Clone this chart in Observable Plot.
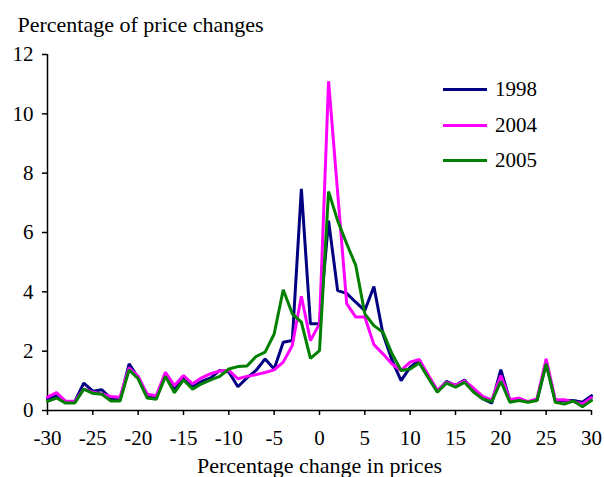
<!DOCTYPE html>
<html>
<head>
<meta charset="utf-8">
<script src="https://cdn.jsdelivr.net/npm/d3@7"></script>
<script src="https://cdn.jsdelivr.net/npm/@observablehq/plot@0.6"></script>
<style>
  html, body { margin: 0; padding: 0; background: #fff; }
  #wrap { position: relative; width: 604px; height: 477px; overflow: hidden; }
  .legend { position: absolute; left: 443px; top: 72px; font-family: "Liberation Serif", "Times New Roman", serif; font-size: 21px; color: #000; }
  .legend .row { display: flex; align-items: center; height: 35.5px; }
  .legend .sw { width: 44px; height: 3px; margin-right: 8px; }
</style>
</head>
<body>
<div id="wrap"></div>
<script>
const xs = d3.range(-30, 31);
const seriesNames = ["1998", "2004", "2005"];
const seriesColors = ["#000080", "#FF00FF", "#008000"];
const v1998 = [0.4,0.5,0.3,0.3,0.92,0.65,0.7,0.4,0.35,1.57,1.1,0.5,0.42,1.22,0.7,1.1,0.8,0.98,1.1,1.35,1.3,0.8,1.1,1.35,1.74,1.4,2.3,2.36,7.47,2.92,2.92,6.4,4.04,3.95,3.65,3.37,4.18,2.58,1.69,1.01,1.46,1.7,1.15,0.65,0.98,0.85,1.03,0.65,0.4,0.25,1.38,0.34,0.36,0.3,0.36,1.6,0.34,0.34,0.34,0.28,0.5];
const v2004 = [0.45,0.6,0.31,0.31,0.72,0.62,0.56,0.47,0.45,1.44,1.15,0.55,0.5,1.29,0.84,1.18,0.9,1.1,1.24,1.33,1.35,1.07,1.15,1.21,1.28,1.37,1.63,2.19,3.85,2.36,2.92,11.1,7.35,3.6,3.15,3.15,2.22,1.91,1.57,1.35,1.63,1.72,1.2,0.68,0.95,0.85,1.0,0.75,0.48,0.35,1.18,0.36,0.42,0.3,0.4,1.74,0.36,0.36,0.3,0.22,0.43];
const v2005 = [0.31,0.42,0.25,0.25,0.72,0.58,0.55,0.32,0.32,1.37,1.07,0.42,0.38,1.15,0.6,1.03,0.72,0.9,1.03,1.15,1.4,1.48,1.5,1.82,1.97,2.58,4.07,3.26,2.98,1.76,2.02,7.38,6.4,5.62,4.89,3.26,2.86,2.64,1.91,1.35,1.4,1.6,1.1,0.62,0.92,0.79,0.95,0.62,0.39,0.3,0.98,0.28,0.34,0.28,0.34,1.57,0.28,0.22,0.32,0.13,0.34];
const xTicks = [-30,-25,-20,-15,-10,-5,0,5,10,15,20,25,30];
const yTicks = [0,2,4,6,8,10,12];
const titleText = "Percentage of price changes";
const xLabelText = "Percentage change in prices";

const values = [v1998, v2004, v2005];
const data = [];
seriesNames.forEach((s, i) => xs.forEach((x, j) => data.push({series: s, x, y: values[i][j]})));

const font = "Liberation Serif, Times New Roman, serif";
const chart = Plot.plot({
  width: 604,
  height: 477,
  marginLeft: 47,
  marginRight: 13,
  marginTop: 54,
  marginBottom: 67,
  style: {fontFamily: font, fontSize: "21px", background: "#fff", color: "#000", overflow: "visible"},
  x: {domain: [-30, 30]},
  y: {domain: [0, 12]},
  color: {domain: seriesNames, range: seriesColors},
  marks: [
    Plot.axisY(yTicks, {tickSize: 5, tickPadding: 9, label: null, fontSize: 21, tickFormat: d => d, strokeWidth: 1.5}),
    Plot.axisX(xTicks, {tickSize: 5, tickPadding: 15, label: null, fontSize: 21, tickFormat: d => d < 0 ? "-" + Math.abs(d) : String(d), strokeWidth: 1.5}),
    Plot.ruleY([0], {stroke: "#000", strokeWidth: 1.5}),
    Plot.ruleX([-30], {stroke: "#000", strokeWidth: 1.5}),
    Plot.line(data, {x: "x", y: "y", z: "series", stroke: "series", strokeWidth: 3, strokeLinejoin: "miter"}),
    Plot.text([titleText], {frameAnchor: "top-left", dx: -30, dy: -38, textAnchor: "start", fontSize: 22, letterSpacing: "0.4px"}),
    Plot.text([xLabelText], {frameAnchor: "bottom", dy: 62, fontSize: 22, letterSpacing: "0.4px"})
  ]
});
const wrap = document.getElementById("wrap");
wrap.appendChild(chart);

const legend = document.createElement("div");
legend.className = "legend";
seriesNames.forEach((s, i) => {
  const row = document.createElement("div");
  row.className = "row";
  const sw = document.createElement("div");
  sw.className = "sw";
  sw.style.background = seriesColors[i];
  const t = document.createElement("span");
  t.textContent = s;
  row.appendChild(sw);
  row.appendChild(t);
  legend.appendChild(row);
});
wrap.appendChild(legend);
</script>
</body>
</html>
